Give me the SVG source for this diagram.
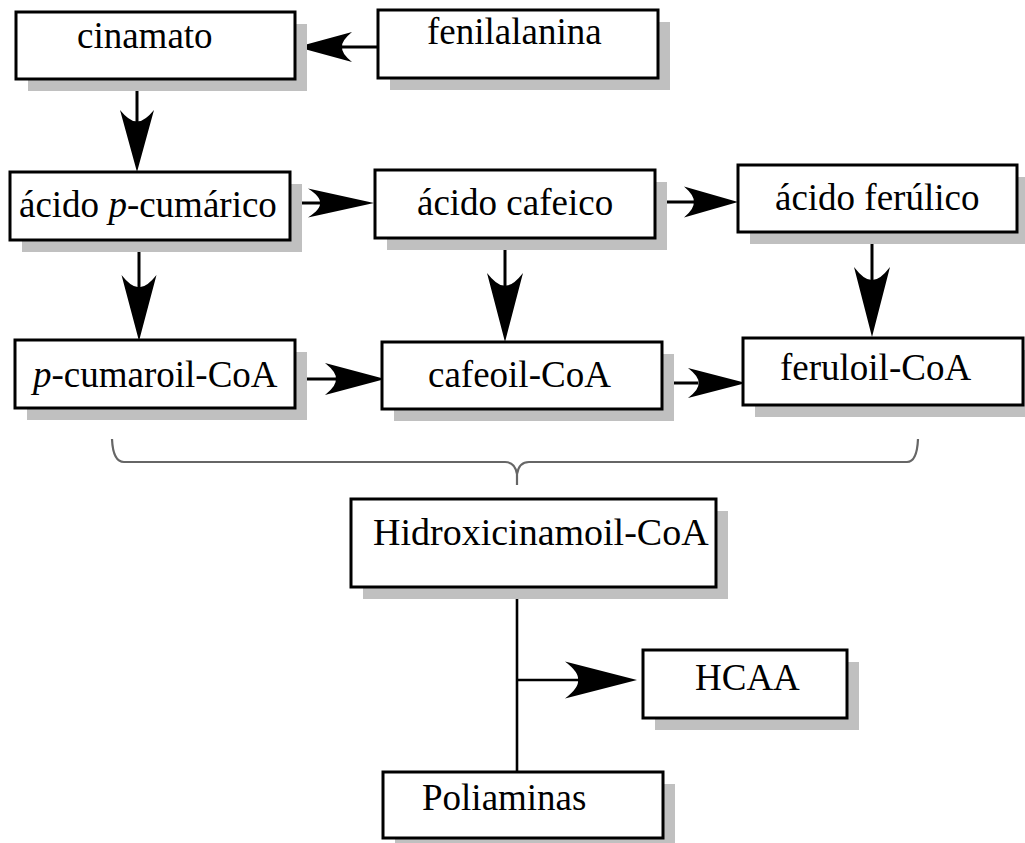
<svg xmlns="http://www.w3.org/2000/svg" width="1025" height="843" viewBox="0 0 1025 843">
<style>
.box{fill:#fff;stroke:#000;stroke-width:3}
.sh{fill:#c0c0c0}
.t{font-family:"Liberation Serif","Times New Roman",serif;font-size:37px;fill:#000}
.i{font-style:italic}
.ln{stroke:#000;stroke-width:3;fill:none}
.ah{fill:#000}
.brace{stroke:#666;stroke-width:2.2;fill:none}
</style>
<defs>
<path id="ah" d="M0,0 L-1,-1 Q-0.8,-0.4 -0.82,0 Q-0.8,0.4 -1,1 Z"/>
</defs>
<rect width="1025" height="843" fill="#fff"/>

<g id="connectors">
  <line class="ln" x1="378" y1="47" x2="340" y2="47"/>
  <use href="#ah" class="ah" transform="translate(297,47) rotate(180) scale(55,15)"/>
  <line class="ln" x1="137" y1="79" x2="137" y2="122"/>
  <use href="#ah" class="ah" transform="translate(137,172) rotate(90) scale(62,17)"/>
  <line class="ln" x1="290" y1="203" x2="320" y2="203"/>
  <use href="#ah" class="ah" transform="translate(374,203) scale(66,14.5)"/>
  <line class="ln" x1="655" y1="202" x2="695" y2="202"/>
  <use href="#ah" class="ah" transform="translate(738,202) scale(54,15.5)"/>
  <line class="ln" x1="139" y1="240" x2="139" y2="288"/>
  <use href="#ah" class="ah" transform="translate(139,341) rotate(90) scale(66,17.5)"/>
  <line class="ln" x1="505" y1="238" x2="505" y2="286"/>
  <use href="#ah" class="ah" transform="translate(505,342) rotate(90) scale(69,18)"/>
  <line class="ln" x1="872" y1="232" x2="872" y2="280"/>
  <use href="#ah" class="ah" transform="translate(872,337) rotate(90) scale(70,18)"/>
  <line class="ln" x1="295" y1="379" x2="336" y2="379"/>
  <use href="#ah" class="ah" transform="translate(385,379) scale(60,16)"/>
  <line class="ln" x1="662" y1="383" x2="698" y2="383"/>
  <use href="#ah" class="ah" transform="translate(746,383) scale(58,15)"/>
  <path class="brace" d="M112,439 Q113,462 124,462 L505,462 Q515,462 517,474 L517,485 M517,474 Q519,462 529,462 L907,462 Q917,462 918,439"/>
  <line class="ln" x1="517" y1="587" x2="517" y2="772" style="stroke-width:2.6"/>
  <line class="ln" x1="517" y1="680" x2="580" y2="680" style="stroke-width:2.6"/>
  <use href="#ah" class="ah" transform="translate(637,680) scale(72,18.5)"/>
</g>

<g id="n-cinamato">
  <rect class="sh" x="28" y="24" width="279" height="67"/>
  <rect class="box" x="16" y="12" width="279" height="67"/>
  <text class="t" x="77" y="48">cinamato</text>
</g>
<g id="n-fenilalanina">
  <rect class="sh" x="390" y="22" width="280" height="68"/>
  <rect class="box" x="378" y="10" width="280" height="68"/>
  <text class="t" x="427" y="44">fenilalanina</text>
</g>
<g id="n-pcumarico">
  <rect class="sh" x="22" y="184" width="280" height="68"/>
  <rect class="box" x="10" y="172" width="280" height="68"/>
  <text class="t" x="19" y="217">ácido <tspan class="i">p</tspan>-cumárico</text>
</g>
<g id="n-cafeico">
  <rect class="sh" x="387" y="182" width="280" height="68"/>
  <rect class="box" x="375" y="170" width="280" height="68"/>
  <text class="t" x="417" y="215">ácido cafeico</text>
</g>
<g id="n-ferulico">
  <rect class="sh" x="750" y="177" width="279" height="67"/>
  <rect class="box" x="738" y="165" width="279" height="67"/>
  <text class="t" x="775" y="210">ácido ferúlico</text>
</g>
<g id="n-pcumaroil">
  <rect class="sh" x="27" y="352" width="280" height="68"/>
  <rect class="box" x="15" y="340" width="280" height="68"/>
  <text class="t" x="33" y="387"><tspan class="i">p</tspan>-cumaroil-CoA</text>
</g>
<g id="n-cafeoil">
  <rect class="sh" x="394" y="354" width="280" height="67"/>
  <rect class="box" x="382" y="342" width="280" height="67"/>
  <text class="t" x="428" y="387">cafeoil-CoA</text>
</g>
<g id="n-feruloil">
  <rect class="sh" x="755" y="350" width="280" height="67"/>
  <rect class="box" x="743" y="338" width="280" height="67"/>
  <text class="t" x="780" y="380">feruloil-CoA</text>
</g>
<g id="n-hidroxi">
  <rect class="sh" x="363" y="511" width="365" height="88"/>
  <rect class="box" x="351" y="499" width="365" height="88"/>
  <text class="t" x="373" y="545" style="font-size:38px">Hidroxicinamoil-CoA</text>
</g>
<g id="n-hcaa">
  <rect class="sh" x="655" y="662" width="204" height="68"/>
  <rect class="box" x="643" y="650" width="204" height="68"/>
  <text class="t" x="695" y="690">HCAA</text>
</g>
<g id="n-poliaminas">
  <rect class="sh" x="395" y="784" width="280" height="66"/>
  <rect class="box" x="383" y="772" width="280" height="66"/>
  <text class="t" x="422" y="810">Poliaminas</text>
</g>
</svg>
